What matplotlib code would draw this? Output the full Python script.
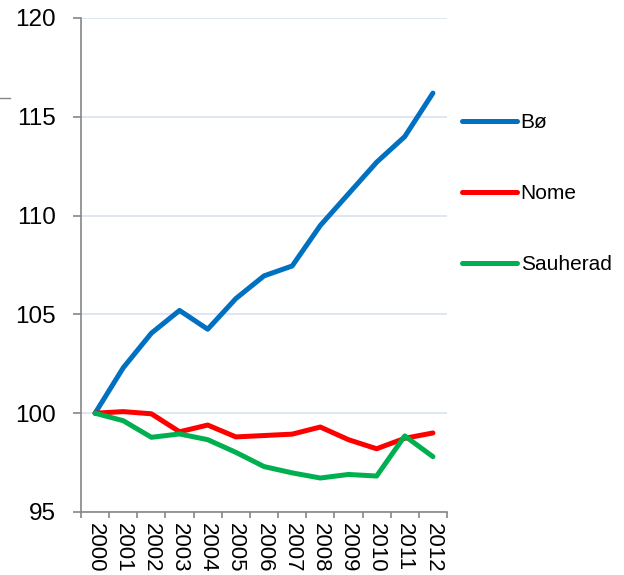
import matplotlib
matplotlib.use("Agg")
import matplotlib.pyplot as plt
import numpy as np

plt.rcParams["font.family"] = ["Liberation Sans", "DejaVu Sans"]

years = [str(y) for y in range(2000, 2013)]
bo = [100.0, 102.3, 104.05, 105.2, 104.25, 105.8, 106.95, 107.45, 109.5, 111.1, 112.7, 114.0, 116.2]
nome = [100.0, 100.08, 99.97, 99.06, 99.4, 98.8, 98.87, 98.94, 99.3, 98.66, 98.2, 98.73, 99.0]
sauherad = [100.0, 99.62, 98.78, 98.95, 98.66, 98.02, 97.3, 96.98, 96.72, 96.9, 96.82, 98.85, 97.8]

fig = plt.figure(figsize=(6.24, 5.75), dpi=100)
ax = fig.add_axes([81 / 624, 63 / 575, 366 / 624, 494 / 575])

x = np.arange(len(years))
ax.plot(x, bo, color="#0070c0", lw=3.6, label="Bø", solid_capstyle="round")
ax.plot(x, nome, color="#ff0000", lw=3.6, label="Nome", solid_capstyle="round")
ax.plot(x, sauherad, color="#00b050", lw=3.6, label="Sauherad", solid_capstyle="round")

ax.set_xlim(-0.5, len(years) - 0.5)
ax.set_ylim(95, 120)
ax.set_yticks([95, 100, 105, 110, 115, 120])
ax.yaxis.grid(True, color="#d9e2f0", lw=1.2)
ax.set_axisbelow(True)

ax.set_xticks(x)
ax.set_xticklabels(years, rotation=-90, fontsize=16)
ax.set_xticks(np.arange(-0.5, len(years)), minor=True)
ax.tick_params(axis="x", which="major", length=0, pad=8)
ax.tick_params(axis="x", which="minor", length=4, color="#868686", width=1.2)
ax.tick_params(axis="y", length=6, color="#868686", width=1.2, labelsize=17.5, pad=12)

for side in ["top", "right"]:
    ax.spines[side].set_visible(False)
for side in ["left", "bottom"]:
    ax.spines[side].set_color("#868686")
    ax.spines[side].set_linewidth(1.2)

ax.legend(loc="upper left", bbox_to_anchor=(454 / 624, 1 - 105 / 575),
          bbox_transform=fig.transFigure, frameon=False, fontsize=15,
          handlelength=2.6, handletextpad=0.2, labelspacing=2.5, borderaxespad=0)

fig.add_artist(plt.Line2D([0, 10 / 624], [1 - 98 / 575, 1 - 98 / 575],
                          transform=fig.transFigure, color="#868686", lw=1))

fig.savefig("out.png", dpi=100, facecolor="white")
